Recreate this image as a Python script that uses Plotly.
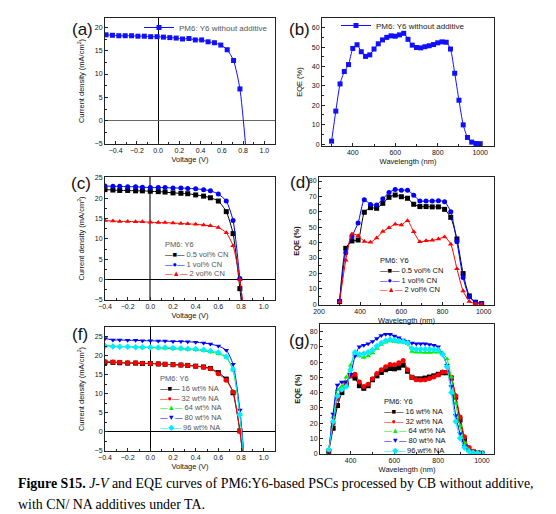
import plotly.graph_objects as go

# page body has an 8px margin, so the figure is 548x506 and placed at (8, 8)
W, H = 548, 506
OFF = 8

# (a) J-V, PM6:Y6 without additive
volt_a = [-0.49, -0.43, -0.37, -0.31, -0.25, -0.19, -0.13, -0.07, -0.01, 0.05, 0.11, 0.17,
          0.23, 0.29, 0.35, 0.41, 0.47, 0.53, 0.59, 0.65, 0.71, 0.77, 0.83]
j_a = [18.4, 18.3, 18.2, 18.2, 18.2, 18.1, 18.1, 18.0, 18.0, 17.9, 17.8, 17.7,
       17.5, 17.6, 17.3, 17.3, 16.9, 16.7, 16.2, 15.2, 12.9, 6.8, -7.0]

# (b) EQE, PM6:Y6 without additive
wl_b = [300, 320, 340, 360, 380, 400, 420, 440, 460, 480, 500, 520, 540, 560, 580, 600, 620, 640,
        660, 680, 700, 720, 740, 760, 780, 800, 820, 840, 860, 880, 900, 920, 940, 960, 980, 1000]
eqe_b = [1.5, 17, 31, 37.4, 41, 49.3, 51.2, 47.6, 45.2, 46, 49, 51.7, 53.7, 55, 55.8, 55.6, 56.3, 57.1,
         54, 51, 49.8, 49.6, 50.2, 50.7, 51.3, 52.2, 52.7, 52.5, 49, 36.5, 22.6, 9.9, 3.4, 1, 0.3, 0.2]

# (c) J-V with CN
volt_c = [-0.40, -0.33, -0.27, -0.20, -0.13, -0.07, 0.00, 0.07, 0.13, 0.20, 0.27, 0.33,
          0.40, 0.47, 0.53, 0.60, 0.67, 0.73, 0.79, 0.85]
j_cn05 = [22.1, 22.0, 21.9, 21.9, 21.8, 21.8, 21.7, 21.6, 21.5, 21.3, 21.2, 21.1,
          20.8, 20.5, 20.1, 19.3, 16.7, 11.3, -2.2, -18]
j_cn1 = [23.0, 22.9, 22.9, 22.8, 22.8, 22.7, 22.6, 22.6, 22.6, 22.5, 22.5, 22.4,
         22.3, 22.1, 21.8, 21.0, 19.3, 14.5, 0.3, -15]
j_cn2 = [14.5, 14.4, 14.3, 14.3, 14.2, 14.2, 14.1, 14.0, 14.0, 13.9, 13.8, 13.7,
         13.6, 13.4, 13.2, 12.8, 11.5, 8.3, 0.0, -15]
cn_names = ["0.5 vol% CN", "1 vol% CN", "2 vol% CN"]

# (d) EQE with CN
wl_d = [300, 330, 360, 390, 420, 450, 480, 510, 540, 570, 600, 630,
        660, 690, 720, 750, 780, 810, 840, 870, 900, 930, 960, 990]
eqe_cn05 = [1.7, 36.3, 41.1, 41.7, 59.7, 62.7, 62.3, 65.5, 69.4, 70.9, 69.8, 68.8,
            64.9, 63.4, 63.4, 63.2, 63.2, 61.6, 56.4, 42.4, 19.9, 5.4, 1.3, 0.4]
eqe_cn1 = [2, 33.5, 44, 52.8, 67.8, 64.8, 64.5, 68.4, 72.5, 74.5, 74, 74,
           70.8, 67, 67, 67, 67.2, 66.5, 60, 40.5, 17.3, 4.8, 1.3, 0.5]
eqe_cn2 = [1.5, 28.5, 45.6, 44.5, 40.8, 40.2, 43, 47.2, 49.6, 51.9, 51.5, 54.2,
           47, 40.6, 41.2, 41.5, 42.3, 43.7, 39, 23, 8.6, 1.8, 0.3, 0.2]

# (f) J-V with NA
volt_f = [-0.40, -0.33, -0.27, -0.20, -0.13, -0.07, 0.00, 0.07, 0.13, 0.20, 0.27, 0.33,
          0.40, 0.47, 0.53, 0.60, 0.67, 0.73, 0.79, 0.85]
j_na16 = [18.3, 18.3, 18.2, 18.1, 18.1, 18.0, 18.0, 17.9, 17.8, 17.7, 17.6, 17.5,
          17.3, 17.1, 16.7, 15.6, 13.9, 10.3, 0.3, -15]
j_na32 = [18.5, 18.4, 18.3, 18.2, 18.2, 18.1, 18.0, 17.9, 17.8, 17.7, 17.6, 17.5,
          17.3, 17.0, 16.6, 15.3, 13.6, 10.5, 0.2, -15]
j_na64 = [22.7, 22.6, 22.5, 22.4, 22.4, 22.3, 22.2, 22.1, 22.0, 21.9, 21.8, 21.7,
          21.6, 21.4, 21.0, 20.6, 19.6, 16.2, 4.6, -15]
j_na80 = [24.6, 24.2, 24.2, 24.1, 24.1, 24.0, 24.0, 23.9, 23.9, 23.8, 23.8, 23.7,
          23.6, 23.4, 23.1, 22.6, 21.5, 17.8, 5.8, -15]
j_na96 = [22.6, 22.5, 22.4, 22.4, 22.3, 22.3, 22.3, 22.2, 22.2, 22.1, 22.0, 21.9,
          21.8, 21.6, 21.3, 20.9, 19.8, 16.5, 4.6, -15]
na_names = ["16 wt% NA", "32 wt% NA", "64 wt% NA", "80 wt% NA", "96 wt% NA"]

# (g) EQE with NA
wl_g = [300, 320, 340, 360, 380, 400, 420, 440, 460, 480, 500, 520, 540, 560, 580, 600, 620, 640,
        660, 680, 700, 720, 740, 760, 780, 800, 820, 840, 860, 880, 900, 920, 940, 960, 980, 1000]
eqe_na16 = [1.5, 16.6, 31.5, 40, 45.5, 51, 49.5, 44.5, 42.8, 44.5, 48.4, 51, 53.2, 55, 55.8, 55.6, 56.3, 58,
            54, 50, 49, 49, 49.5, 50.2, 51, 52, 53, 53, 49.5, 37, 22, 9.5, 3.5, 1.2, 0.4, 0.2]
eqe_na32 = [2, 20, 36, 43, 46.5, 51, 52, 47, 44, 45.5, 49, 52.5, 55, 57, 58.5, 58.3, 59.5, 61,
            55, 50, 48.5, 48.3, 48.5, 49.3, 50.3, 51.5, 53.5, 53.5, 50, 38, 24, 11, 4, 1.5, 0.5, 0.2]
eqe_na64 = [2.5, 24, 42, 44, 50, 58, 66, 64, 63, 64, 66, 69, 71.5, 73, 73.8, 73.5, 73.2, 73,
            72, 67, 66.5, 66.5, 66.3, 66.3, 66.5, 66.5, 66, 62, 50, 33, 18, 7, 2.5, 1, 0.3, 0.2]
eqe_na80 = [2, 26, 45, 47, 47, 52, 64, 70, 71, 72, 73.5, 75.5, 77.5, 78.2, 78.2, 77.2, 76, 74.5,
            73.5, 72.5, 72, 72, 72, 71.5, 71, 70, 65, 58, 44, 25, 13, 5, 1.8, 0.8, 0.3, 0.2]
eqe_na96 = [2.5, 21, 38, 42, 44, 55, 66.5, 65, 65.5, 66.5, 68, 70.5, 72.5, 74, 74.8, 74.3, 73.8, 73.5,
            72.5, 69, 68.5, 68.5, 68.5, 68.5, 68.3, 68, 65, 57, 40, 21, 10, 4, 1.5, 0.6, 0.3, 0.2]

FONT = "Arial, Liberation Sans, sans-serif"
SERIF = "Times New Roman, Liberation Serif, serif"

CN_STYLE = [("#000000", "square", "■"), ("#0000ff", "circle", "●"), ("#ff0000", "triangle-up", "▲")]
NA_STYLE = [("#000000", "square", "■"), ("#ff0000", "circle", "●"), ("#00ee00", "triangle-up", "▲"),
            ("#0000ff", "triangle-down", "▼"), ("#00eeff", "diamond", "◆")]


# window pixels -> paper coordinates
def PX(x):
    return (x - OFF) / W


def PY(y):
    return 1 - (y - OFF) / H


def xdom(a, b):
    return [PX(a), PX(b)]


def ydom(top, bottom):
    return [PY(bottom), PY(top)]


def add_curve(fig, x, y, color, symbol, ax, name="", legend=None):
    fig.add_trace(go.Scatter(
        x=x, y=y, mode="lines+markers", name=name,
        line=dict(color=color, width=1, shape="spline", smoothing=0.6),
        marker=dict(symbol=symbol, size=5, color=color),
        xaxis="x" + ax, yaxis="y" + ax,
        showlegend=legend is not None, legend=legend or "legend",
    ))


fig = go.Figure()

add_curve(fig, volt_a, j_a, "#1010ff", "square", "", "PM6: Y6 without additive", "legend")
add_curve(fig, wl_b, eqe_b, "#1010ff", "square", "2", "PM6: Y6 without additive", "legend2")

for ys, st in zip([j_cn05, j_cn1, j_cn2], CN_STYLE):
    add_curve(fig, volt_c, ys, st[0], st[1], "3")
for ys, st in zip([eqe_cn05, eqe_cn1, eqe_cn2], CN_STYLE):
    add_curve(fig, wl_d, ys, st[0], st[1], "4")
for ys, st in zip([j_na16, j_na32, j_na64, j_na80, j_na96], NA_STYLE):
    add_curve(fig, volt_f, ys, st[0], st[1], "5")
for ys, st in zip([eqe_na16, eqe_na32, eqe_na64, eqe_na80, eqe_na96], NA_STYLE):
    add_curve(fig, wl_g, ys, st[0], st[1], "6")


def axis(dom, rng, dtick, mdtick, title, anchor, fmt=None, zero=False, zcolor="#000", zwidth=1, standoff=3):
    d = dict(
        domain=dom, range=rng, anchor=anchor, dtick=dtick, tick0=0, automargin=False,
        showline=True, linecolor="#222", linewidth=1, mirror=True,
        ticks="inside", ticklen=3, tickwidth=1, tickcolor="#222",
        minor=dict(ticks="inside", ticklen=2, dtick=mdtick, tickcolor="#222"),
        showgrid=False, zeroline=zero, zerolinecolor=zcolor, zerolinewidth=zwidth,
        tickfont=dict(family=FONT, size=7, color="#111"),
        title=dict(text=title, font=dict(family=FONT, size=7.5, color="#111"), standoff=standoff),
    )
    if fmt:
        d["tickformat"] = fmt
    return d


JV = "Current density (mA/cm<sup>2</sup>)"

fig.update_layout(
    width=W, height=H, margin=dict(l=0, r=0, t=0, b=0),
    paper_bgcolor="white", plot_bgcolor="white",
    font=dict(family=FONT),
    xaxis=axis(xdom(105, 275), [-0.5, 1.1], 0.2, 0.1, "Voltage (V)", "y", ".1f", True),
    yaxis=axis(ydom(18, 144), [-5, 22], 5, 2.5, JV, "x", None, True, "#666", standoff=8),
    xaxis2=axis(xdom(322, 494), [255, 1065], 200, 100, "Wavelength (nm)", "y2"),
    yaxis2=axis(ydom(18, 146), [-1, 65], 10, 5, "EQE (%)", "x2", standoff=8),
    xaxis3=axis(xdom(105, 275), [-0.4, 1.1], 0.2, 0.1, "Voltage (V)", "y3", ".1f", True, "#777", 1.5),
    yaxis3=axis(ydom(177, 300), [-5, 25.2], 5, 2.5, JV, "x3", None, True, standoff=8),
    xaxis4=axis(xdom(319, 494), [200, 1050], 200, 100, "Wavelength (nm)", "y4"),
    yaxis4=axis(ydom(177, 305), [-0.5, 82.6], 10, 5, "<b>EQE (%)</b>", "x4", standoff=8),
    xaxis5=axis(xdom(105, 275), [-0.4, 1.1], 0.2, 0.1, "Voltage (V)", "y5", ".1f", True),
    yaxis5=axis(ydom(327, 451), [-5, 27.6], 5, 2.5, JV, "x5", None, True, standoff=8),
    xaxis6=axis(xdom(320, 494), [260, 1055], 200, 100, "Wavelength (nm)", "y6"),
    yaxis6=axis(ydom(324, 454), [-0.3, 85], 10, 5, "<b>EQE (%)</b>", "x6", standoff=8),
    legend=dict(x=PX(139), y=PY(13), xanchor="left", yanchor="top", bgcolor="rgba(0,0,0,0)",
                font=dict(family=FONT, size=8, color="#555")),
    legend2=dict(x=PX(336), y=PY(11), xanchor="left", yanchor="top", bgcolor="rgba(0,0,0,0)",
                 font=dict(family=FONT, size=8, color="#222")),
)


def legend_text(names, styles):
    rows = ["PM6: Y6"]
    for n, st in zip(names, styles):
        rows.append('<span style="color:%s">—%s—</span> %s' % (st[0], st[2], n))
    return "<br>".join(rows)


# in-plot legends
for names, styles, px, py, col in [
    (cn_names, CN_STYLE, 163, 238, "#555"),
    (cn_names, CN_STYLE, 378, 254, "#111"),
    (na_names, NA_STYLE, 158, 372, "#555"),
    (na_names, NA_STYLE, 382, 395, "#111"),
]:
    fig.add_annotation(text=legend_text(names, styles), x=PX(px), y=PY(py),
                       xref="paper", yref="paper", xanchor="left", yanchor="top",
                       align="left", showarrow=False,
                       font=dict(family=FONT, size=7.5, color=col))

# panel labels
for lab, px, py in [("(a)", 95, 30), ("(b)", 312, 30), ("(c)", 93, 183),
                    ("(d)", 313, 182), ("(f)", 90, 334), ("(g)", 312, 340)]:
    fig.add_annotation(text=lab, x=PX(px), y=PY(py), xref="paper", yref="paper",
                       xanchor="right", yanchor="middle", showarrow=False,
                       font=dict(family=FONT, size=17, color="#111"))

# caption
fig.add_annotation(text="<b>Figure S15.</b> <i>J-V</i> and EQE curves of PM6:Y6-based PSCs processed by CB without additive,",
                   x=PX(16), y=PY(483), xref="paper", yref="paper", xanchor="left", yanchor="middle",
                   showarrow=False, font=dict(family=SERIF, size=13.9, color="#000"))
fig.add_annotation(text="with CN/ NA additives under TA.",
                   x=PX(16), y=PY(504), xref="paper", yref="paper", xanchor="left", yanchor="middle",
                   showarrow=False, font=dict(family=SERIF, size=13.9, color="#000"))

fig.write_html("out.html")
